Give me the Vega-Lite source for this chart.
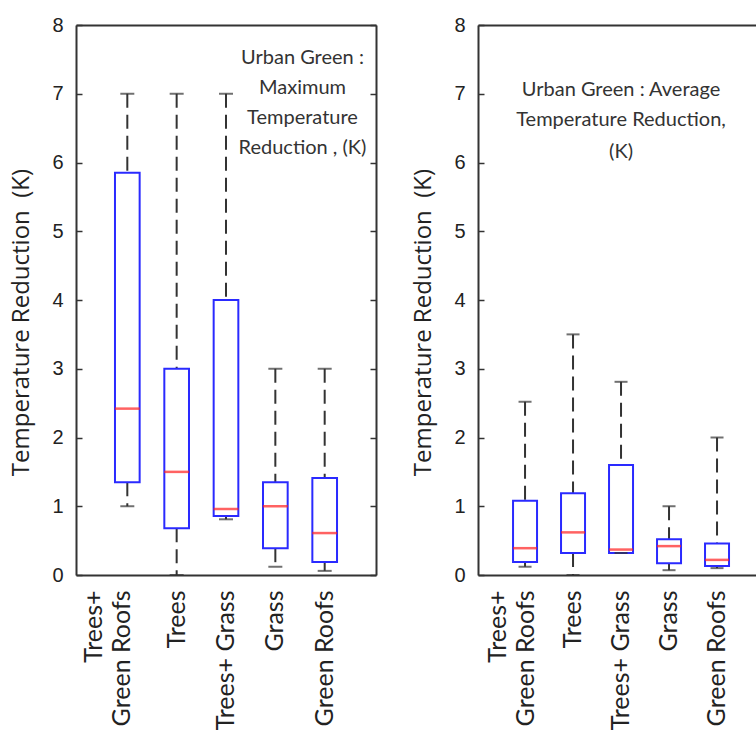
{
  "$schema": "https://vega.github.io/schema/vega-lite/v6.json",
  "padding": {"left": 9, "top": 15, "right": 0, "bottom": 0},
  "spacing": 34,
  "config": {
    "view": {"stroke": null},
    "axis": {"grid": false, "domainColor": "#333333", "domainWidth": 2, "tickColor": "#333333", "tickWidth": 1.5, "labelColor": "#222222", "titleColor": "#222222"}
  },
  "datasets": {
    "maxred": [
      {"cat": "Trees+ Green Roofs", "min": 1.0, "q1": 1.35, "median": 2.42, "q3": 5.85, "max": 7.0},
      {"cat": "Trees", "min": 0.0, "q1": 0.68, "median": 1.5, "q3": 3.0, "max": 7.0},
      {"cat": "Trees+ Grass", "min": 0.81, "q1": 0.86, "median": 0.96, "q3": 4.0, "max": 7.0},
      {"cat": "Grass", "min": 0.12, "q1": 0.39, "median": 1.0, "q3": 1.35, "max": 3.0},
      {"cat": "Green Roofs", "min": 0.06, "q1": 0.19, "median": 0.61, "q3": 1.41, "max": 3.0}
    ],
    "avgred": [
      {"cat": "Trees+ Green Roofs", "min": 0.12, "q1": 0.19, "median": 0.39, "q3": 1.08, "max": 2.52},
      {"cat": "Trees", "min": 0.0, "q1": 0.32, "median": 0.62, "q3": 1.19, "max": 3.5},
      {"cat": "Trees+ Grass", "min": 0.32, "q1": 0.32, "median": 0.37, "q3": 1.6, "max": 2.81},
      {"cat": "Grass", "min": 0.07, "q1": 0.17, "median": 0.42, "q3": 0.52, "max": 1.0},
      {"cat": "Green Roofs", "min": 0.1, "q1": 0.13, "median": 0.22, "q3": 0.46, "max": 2.0}
    ],
    "noteMax": [
      {"t": "Urban Green :", "v": 7.52},
      {"t": "Maximum", "v": 7.08},
      {"t": "Temperature", "v": 6.65},
      {"t": "Reduction , (K)", "v": 6.21}
    ],
    "noteAvg": [
      {"t": "Urban Green : Average", "v": 7.05},
      {"t": "Temperature Reduction,", "v": 6.62},
      {"t": "(K)", "v": 6.16}
    ]
  },
  "hconcat": [
    {
      "width": 300,
      "height": 550,
      "data": {"name": "maxred"},
      "resolve": {"axis": {"x": "independent", "y": "independent"}},
      "layer": [
        {
          "mark": {"type": "rule", "strokeDash": [14, 7], "color": "#333333", "strokeWidth": 2},
          "encoding": {
            "x": {"field": "cat", "type": "nominal", "axis": null},
            "y": {"field": "max", "type": "quantitative", "axis": null},
            "y2": {"field": "q3"}
          }
        },
        {
          "mark": {"type": "rule", "strokeDash": [14, 7], "color": "#333333", "strokeWidth": 2},
          "encoding": {
            "x": {"field": "cat", "type": "nominal", "axis": null},
            "y": {"field": "q1", "type": "quantitative", "axis": null},
            "y2": {"field": "min"}
          }
        },
        {
          "mark": {"type": "bar", "fill": "white", "stroke": "#2a2aff", "strokeWidth": 2},
          "encoding": {
            "x": {
              "field": "cat", "type": "nominal",
              "scale": {"domain": ["Trees+ Green Roofs", "Trees", "Trees+ Grass", "Grass", "Green Roofs"], "paddingInner": 0.5, "paddingOuter": 0.79},
              "axis": {
                "orient": "bottom", "title": null, "ticks": false, "domain": true,
                "labelAngle": -90, "labelAlign": "right",
                "labelBaseline": {"condition": {"test": "datum.value === 'Trees+ Green Roofs'", "value": "bottom"}, "value": "middle"},
                "labelOffset": {"condition": {"test": "datum.value === 'Trees+ Green Roofs'", "value": -20}, "value": 0},
                "labelFont": "Lato", "labelFontSize": 25, "labelPadding": 15, "labelLimit": 400, "labelLineHeight": 28,
                "labelExpr": "datum.value === 'Trees+ Green Roofs' ? ['Trees+', 'Green Roofs'] : datum.value"
              }
            },
            "y": {
              "field": "q1", "type": "quantitative",
              "scale": {"domain": [0, 8], "nice": false},
              "axis": {
                "orient": "left", "title": "Temperature Reduction\u00a0 (K)",
                "titleFont": "Open Sans", "titleFontSize": 24, "titleFontWeight": "normal", "titlePadding": 18, "titleY": 297,
                "labelFont": "Liberation Sans", "labelFontSize": 20, "labelPadding": 19,
                "values": [0, 1, 2, 3, 4, 5, 6, 7, 8], "ticks": true, "tickSize": -6, "domain": true
              }
            },
            "y2": {"field": "q3"}
          }
        },
        {
          "mark": {"type": "tick", "color": "#333333", "size": 14, "thickness": 2},
          "encoding": {
            "x": {"field": "cat", "type": "nominal", "axis": {"orient": "top", "labels": false, "ticks": false, "title": null, "domain": true}},
            "y": {"field": "max", "type": "quantitative", "axis": {"orient": "right", "labels": false, "title": null, "ticks": true, "tickSize": -6, "domain": true, "values": [0, 1, 2, 3, 4, 5, 6, 7, 8]}}
          }
        },
        {
          "mark": {"type": "tick", "color": "#333333", "size": 14, "thickness": 2},
          "encoding": {
            "x": {"field": "cat", "type": "nominal", "axis": null},
            "y": {"field": "min", "type": "quantitative", "axis": null}
          }
        },
        {
          "mark": {"type": "tick", "color": "#ff2020", "size": 25, "thickness": 2.5},
          "encoding": {
            "x": {"field": "cat", "type": "nominal", "axis": null},
            "y": {"field": "median", "type": "quantitative", "axis": null}
          }
        },
        {
          "data": {"name": "noteMax"},
          "mark": {"type": "text", "font": "Lato", "fontSize": 20, "color": "#333333", "align": "center", "baseline": "middle"},
          "encoding": {
            "x": {"datum": "Grass", "type": "nominal", "bandPosition": 1.6, "axis": null},
            "y": {"field": "v", "type": "quantitative", "axis": null},
            "text": {"field": "t"}
          }
        }
      ]
    },
    {
      "width": 278,
      "height": 550,
      "data": {"name": "avgred"},
      "resolve": {"axis": {"x": "independent", "y": "independent"}},
      "layer": [
        {
          "mark": {"type": "rule", "strokeDash": [14, 7], "color": "#333333", "strokeWidth": 2},
          "encoding": {
            "x": {"field": "cat", "type": "nominal", "axis": null},
            "y": {"field": "max", "type": "quantitative", "axis": null},
            "y2": {"field": "q3"}
          }
        },
        {
          "mark": {"type": "rule", "strokeDash": [14, 7], "color": "#333333", "strokeWidth": 2},
          "encoding": {
            "x": {"field": "cat", "type": "nominal", "axis": null},
            "y": {"field": "q1", "type": "quantitative", "axis": null},
            "y2": {"field": "min"}
          }
        },
        {
          "mark": {"type": "bar", "fill": "white", "stroke": "#2a2aff", "strokeWidth": 2},
          "encoding": {
            "x": {
              "field": "cat", "type": "nominal",
              "scale": {"domain": ["Trees+ Green Roofs", "Trees", "Trees+ Grass", "Grass", "Green Roofs"], "paddingInner": 0.5, "paddingOuter": 0.646, "align": 0.565},
              "axis": {
                "orient": "bottom", "title": null, "ticks": false, "domain": true,
                "labelAngle": -90, "labelAlign": "right",
                "labelBaseline": {"condition": {"test": "datum.value === 'Trees+ Green Roofs'", "value": "bottom"}, "value": "middle"},
                "labelOffset": {"condition": {"test": "datum.value === 'Trees+ Green Roofs'", "value": -14}, "value": 0},
                "labelFont": "Lato", "labelFontSize": 25, "labelPadding": 15, "labelLimit": 400, "labelLineHeight": 28,
                "labelExpr": "datum.value === 'Trees+ Green Roofs' ? ['Trees+', 'Green Roofs'] : datum.value"
              }
            },
            "y": {
              "field": "q1", "type": "quantitative",
              "scale": {"domain": [0, 8], "nice": false},
              "axis": {
                "orient": "left", "title": "Temperature Reduction\u00a0 (K)",
                "titleFont": "Open Sans", "titleFontSize": 24, "titleFontWeight": "normal", "titlePadding": 18, "titleY": 297,
                "labelFont": "Liberation Sans", "labelFontSize": 20, "labelPadding": 19,
                "values": [0, 1, 2, 3, 4, 5, 6, 7, 8], "ticks": true, "tickSize": -6, "domain": true
              }
            },
            "y2": {"field": "q3"}
          }
        },
        {
          "mark": {"type": "tick", "color": "#333333", "size": 13, "thickness": 2},
          "encoding": {
            "x": {"field": "cat", "type": "nominal", "axis": {"orient": "top", "labels": false, "ticks": false, "title": null, "domain": true}},
            "y": {"field": "max", "type": "quantitative", "axis": null}
          }
        },
        {
          "mark": {"type": "tick", "color": "#333333", "size": 13, "thickness": 2},
          "encoding": {
            "x": {"field": "cat", "type": "nominal", "axis": null},
            "y": {"field": "min", "type": "quantitative", "axis": null}
          }
        },
        {
          "mark": {"type": "tick", "color": "#ff2020", "size": 24, "thickness": 2.5},
          "encoding": {
            "x": {"field": "cat", "type": "nominal", "axis": null},
            "y": {"field": "median", "type": "quantitative", "axis": null}
          }
        },
        {
          "data": {"name": "noteAvg"},
          "mark": {"type": "text", "font": "Lato", "fontSize": 20, "color": "#333333", "align": "center", "baseline": "middle"},
          "encoding": {
            "x": {"datum": "Trees+ Grass", "type": "nominal", "bandPosition": 0.5, "axis": null},
            "y": {"field": "v", "type": "quantitative", "axis": null},
            "text": {"field": "t"}
          }
        }
      ]
    }
  ]
}
